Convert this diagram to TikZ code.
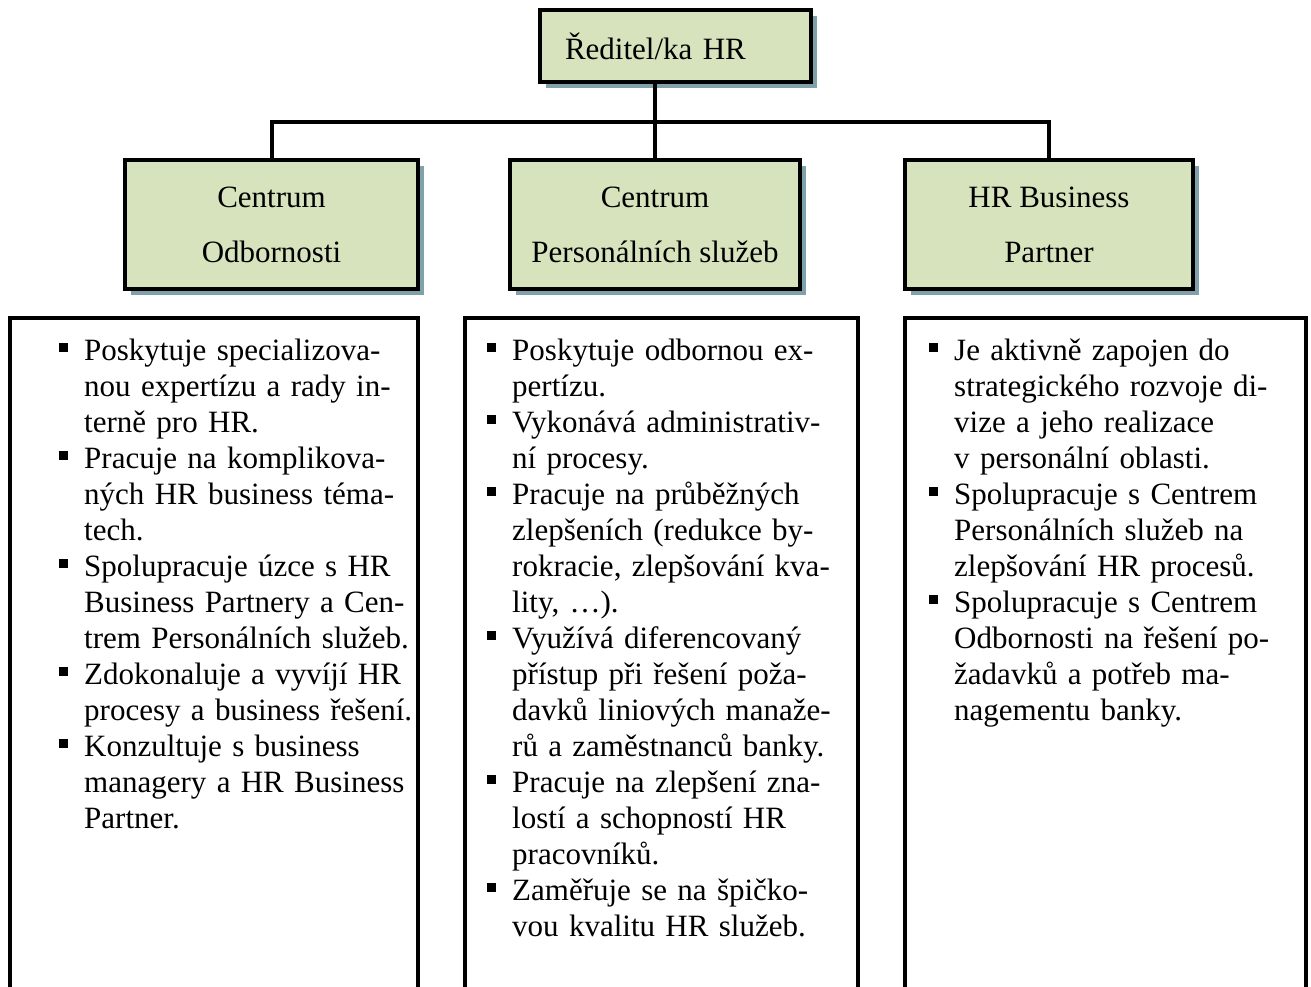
\documentclass[tikz,border=0pt]{standalone}
\usepackage{fontspec}
\setmainfont{Liberation Serif}
\usetikzlibrary{shadows}

\definecolor{headgreen}{RGB}{214,227,188}
\definecolor{shadowgrey}{RGB}{128,160,172}

\tikzstyle{headbox} = [draw=black,line width=4pt,fill=headgreen,inner sep=0pt,
    drop shadow={shadow xshift=6pt,shadow yshift=-6pt,fill=shadowgrey,opacity=1},
    font=\fontsize{31}{55}\selectfont,align=center]
\tikzstyle{bodybox} = [draw=black,line width=4pt,fill=white,inner sep=0pt,anchor=north]
\tikzstyle{bodytext} = [anchor=north west,inner sep=0pt,text width=460pt,
    font=\fontsize{31}{36}\selectfont]
\tikzstyle{link} = [draw=black,line width=4pt]

\newenvironment{dutylist}{\raggedright\begin{list}{\rule[8pt]{9pt}{9pt}}{%
    \setlength{\leftmargin}{26pt}\setlength{\labelwidth}{10pt}%
    \setlength{\labelsep}{16pt}\setlength{\itemsep}{0pt}%
    \setlength{\parsep}{0pt}\setlength{\topsep}{0pt}\setlength{\partopsep}{0pt}}}%
  {\end{list}}

\begin{document}
\begin{tikzpicture}[x=1pt,y=-1pt]
    \useasboundingbox (0,0) rectangle (1311,986);
    \clip (0,0) rectangle (1311,986);

    \coordinate (ceo) at (675.5, 46);
    \coordinate (centA) at (271.5, 224.5);
    \coordinate (centB) at (655, 224.5);
    \coordinate (centC) at (1049, 224.5);
    \coordinate (bodyA) at (214, 316);
    \coordinate (bodyB) at (661.5, 316);
    \coordinate (bodyC) at (1105.5, 316);
    \coordinate (bus) at (0, 122);

    \node [style=headbox,minimum width=271pt,minimum height=72pt,
        text width=221pt,align=left] (ceo) at (ceo) {Ředitel/ka HR};
    \node [style=headbox,minimum width=293pt,minimum height=129pt] (centA) at (centA) {Centrum\\Odbornosti};
    \node [style=headbox,minimum width=290pt,minimum height=129pt] (centB) at (centB) {Centrum\\Personálních služeb};
    \node [style=headbox,minimum width=288pt,minimum height=129pt] (centC) at (centC) {HR Business\\Partner};

    \node [style=bodybox,minimum width=408pt,minimum height=720pt] (bodyA) at (bodyA) {};
    \node [style=bodybox,minimum width=393pt,minimum height=720pt] (bodyB) at (bodyB) {};
    \node [style=bodybox,minimum width=401pt,minimum height=720pt] (bodyC) at (bodyC) {};

    \node [style=bodytext] (listA) at ([xshift=50pt,yshift=-8pt]bodyA.north west) {%
        \begin{dutylist}
        \item Poskytuje specializova-\\nou expertízu a rady in-\\terně pro HR.
        \item Pracuje na komplikova-\\ných HR business téma-\\tech.
        \item Spolupracuje úzce s HR\\Business Partnery a Cen-\\trem Personálních služeb.
        \item Zdokonaluje a vyvíjí HR\\procesy a business řešení.
        \item Konzultuje s business\\managery a HR Business\\Partner.
        \end{dutylist}};
    \node [style=bodytext] (listB) at ([xshift=23pt,yshift=-8pt]bodyB.north west) {%
        \begin{dutylist}
        \item Poskytuje odbornou ex-\\pertízu.
        \item Vykonává administrativ-\\ní procesy.
        \item Pracuje na průběžných\\zlepšeních (redukce by-\\rokracie, zlepšování kva-\\lity, …).
        \item Využívá diferencovaný\\přístup při řešení poža-\\davků liniových manaže-\\rů a zaměstnanců banky.
        \item Pracuje na zlepšení zna-\\lostí a schopností HR\\pracovníků.
        \item Zaměřuje se na špičko-\\vou kvalitu HR služeb.
        \end{dutylist}};
    \node [style=bodytext] (listC) at ([xshift=25pt,yshift=-8pt]bodyC.north west) {%
        \begin{dutylist}
        \item Je aktivně zapojen do\\strategického rozvoje di-\\vize a jeho realizace\\v personální oblasti.
        \item Spolupracuje s Centrem\\Personálních služeb na\\zlepšování HR procesů.
        \item Spolupracuje s Centrem\\Odbornosti na řešení po-\\žadavků a potřeb ma-\\nagementu banky.
        \end{dutylist}};

    \draw [style=link] (ceo.south -| centB.north) -- (centB.north);
    \draw [style=link] (centA.north) -- (centA.north |- bus) -- (centC.north |- bus) -- (centC.north);
\end{tikzpicture}
\end{document}
